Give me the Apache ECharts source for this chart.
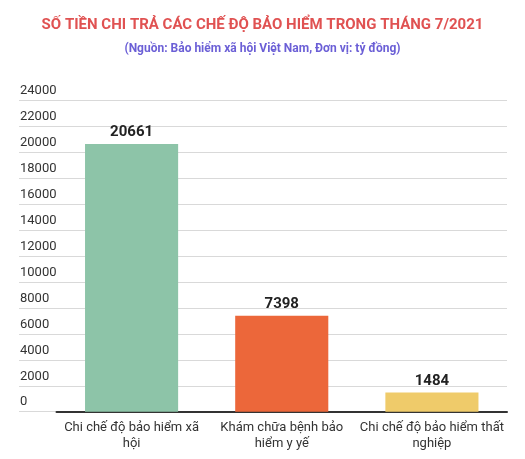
<!DOCTYPE html>
<html>
<head>
<meta charset="utf-8">
<script src="https://cdn.jsdelivr.net/npm/echarts@6/dist/echarts.min.js"></script>
<style>
  html, body { margin: 0; padding: 0; background: #fff; }
  #chart { width: 525px; height: 459px; }
</style>
</head>
<body>
<div id="chart"></div>
<script>
// data
const categories = ['Chi chế độ bảo hiểm xã\nhội', 'Khám chữa bệnh bảo\nhiểm y yế', 'Chi chế độ bảo hiểm thất\nnghiệp'];
const values = [20661, 7398, 1484];
const barColors = ['#8dc4a8', '#ec673a', '#efcb6a'];
const yTicks = { min: 0, max: 24000, interval: 2000 };

const font = 'Roboto, "Noto Sans", sans-serif';
const chart = echarts.init(document.getElementById('chart'));

const option = {
  animation: false,
  textStyle: { fontFamily: font },
  title: [
    {
      text: 'SỐ TIỀN CHI TRẢ CÁC CHẾ ĐỘ BẢO HIỂM TRONG THÁNG 7/2021',
      left: 'center', top: 13,
      textStyle: { color: '#e05252', fontSize: 15, fontWeight: 'bold', fontFamily: font }
    },
    {
      text: '(Nguồn: Bảo hiểm xã hội Việt Nam, Đơn vị: tỷ đồng)',
      left: 'center', top: 38,
      textStyle: { color: '#6b5fd6', fontSize: 12, fontWeight: 'bold', fontFamily: font }
    }
  ],
  grid: [
    // gridlines + y labels, wider than the bars
    { left: 19, right: 18, top: 100.7, bottom: 47.3 },
    // bars
    { left: 56.5, right: 18, top: 100.7, bottom: 47.3 }
  ],
  xAxis: [
    { gridIndex: 0, type: 'value', show: false, min: 0, max: 1 },
    {
      gridIndex: 1, type: 'category', data: categories,
      axisLine: { lineStyle: { color: '#333', width: 2 } },
      axisTick: { show: false },
      axisLabel: { color: '#333', fontSize: 13, lineHeight: 16, margin: 8, interval: 0 }
    }
  ],
  yAxis: [
    {
      gridIndex: 0, type: 'value', min: yTicks.min, max: yTicks.max, interval: yTicks.interval,
      axisLine: { show: false }, axisTick: { show: false },
      splitLine: { lineStyle: { color: '#d9d9d9', width: 1 } },
      axisLabel: {
        inside: true, margin: 1, color: '#333', fontSize: 13,
        verticalAlign: 'bottom', padding: [0, 0, 3, 0],
        formatter: v => String(v),
        showMaxLabel: true, showMinLabel: true
      }
    },
    {
      gridIndex: 1, type: 'value', min: yTicks.min, max: yTicks.max, interval: yTicks.interval,
      show: false, splitLine: { show: false }
    }
  ],
  series: [
    {
      type: 'bar', xAxisIndex: 1, yAxisIndex: 1,
      barWidth: '62%',
      data: values.map((v, i) => ({ value: v, itemStyle: { color: barColors[i] } })),
      label: {
        show: true, position: 'top', distance: 4,
        formatter: p => String(p.value),
        color: '#222', fontSize: 15, fontWeight: 'bold', fontFamily: font
      },
      z: 3
    }
  ]
};

chart.setOption(option);
</script>
</body>
</html>
